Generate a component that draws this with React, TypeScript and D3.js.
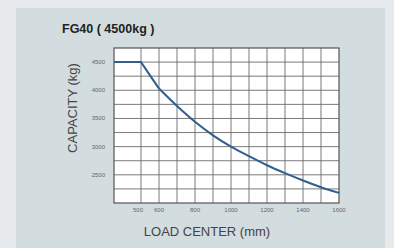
import React, { useEffect, useRef } from 'react';
import * as d3 from 'd3';

// load center (mm) vs capacity (kg)
const loadCenters = [350, 500, 600, 700, 800, 900, 1000, 1100, 1200, 1300, 1400, 1500, 1600];
const capacities = [4500, 4500, 4030, 3720, 3440, 3200, 3000, 2830, 2670, 2530, 2400, 2280, 2180];
const xTickLabels = [500, 600, 800, 1000, 1200, 1400, 1600];
const yTickLabels = [2500, 3000, 3500, 4000, 4500];

export default function App() {
  const svgRef = useRef<SVGSVGElement>(null);

  useEffect(() => {
    if (!svgRef.current) return;
    const width = 394;
    const height = 248;
    const plot = { left: 114, right: 339, top: 48, bottom: 203 };

    const svg = d3.select(svgRef.current);
    svg.selectAll('*').remove();
    svg.attr('width', width).attr('height', height);

    svg.append('rect').attr('width', width).attr('height', height).attr('fill', '#e6eaec');
    svg.append('rect').attr('x', 16).attr('y', 8).attr('width', 369).attr('height', 245).attr('fill', '#d3dcdf');

    svg.append('text').attr('x', 62).attr('y', 33)
      .attr('fill', '#222').style('font-family', 'Liberation Sans, Arial, sans-serif')
      .style('font-size', '12.5px').style('font-weight', 'bold')
      .text('FG40 ( 4500kg )');

    const x = d3.scaleLinear().domain([350, 1600]).range([plot.left, plot.right]);
    const y = d3.scaleLinear().domain([2000, 4750]).range([plot.bottom, plot.top]);

    svg.append('rect')
      .attr('x', plot.left).attr('y', plot.top)
      .attr('width', plot.right - plot.left).attr('height', plot.bottom - plot.top)
      .attr('fill', '#ffffff');

    const g = svg.append('g');
    d3.range(500, 1600, 100).forEach(v => {
      g.append('line').attr('x1', x(v)).attr('x2', x(v)).attr('y1', plot.top).attr('y2', plot.bottom)
        .attr('stroke', '#6b6b6b').attr('stroke-width', 0.9);
    });
    d3.range(2250, 4750, 250).forEach(v => {
      g.append('line').attr('x1', plot.left).attr('x2', plot.right).attr('y1', y(v)).attr('y2', y(v))
        .attr('stroke', '#6b6b6b').attr('stroke-width', 0.9);
    });
    svg.append('rect')
      .attr('x', plot.left).attr('y', plot.top)
      .attr('width', plot.right - plot.left).attr('height', plot.bottom - plot.top)
      .attr('fill', 'none').attr('stroke', '#555').attr('stroke-width', 1.2);

    // tick labels
    xTickLabels.forEach(v => {
      svg.append('text').attr('x', x(v) - (v === 500 ? 3 : 0)).attr('y', 212)
        .attr('text-anchor', 'middle').attr('fill', '#666')
        .style('font-family', 'Liberation Sans, Arial, sans-serif').style('font-size', '6px')
        .text(v);
    });
    yTickLabels.forEach(v => {
      svg.append('text').attr('x', 105).attr('y', y(v) + 2)
        .attr('text-anchor', 'end').attr('fill', '#666')
        .style('font-family', 'Liberation Sans, Arial, sans-serif').style('font-size', '6px')
        .text(v);
    });

    // axis titles
    svg.append('text').attr('x', 207).attr('y', 236)
      .attr('text-anchor', 'middle').attr('fill', '#444')
      .style('font-family', 'Liberation Sans, Arial, sans-serif').style('font-size', '13px')
      .text('LOAD CENTER (mm)');
    svg.append('text')
      .attr('transform', 'translate(77,108) rotate(-90)')
      .attr('text-anchor', 'middle').attr('fill', '#444')
      .style('font-family', 'Liberation Sans, Arial, sans-serif').style('font-size', '13px')
      .text('CAPACITY (kg)');

    // capacity curve: flat, straight drop to 600, then smooth
    const pts = loadCenters.map((d, i) => [d, capacities[i]] as [number, number]);
    const straight = d3.line<[number, number]>().x(d => x(d[0])).y(d => y(d[1]));
    const smooth = d3.line<[number, number]>().x(d => x(d[0])).y(d => y(d[1])).curve(d3.curveMonotoneX);
    svg.append('path').datum(pts.slice(0, 3)).attr('fill', 'none')
      .attr('stroke', '#2f5f8f').attr('stroke-width', 2).attr('stroke-linejoin', 'round').attr('d', straight);
    svg.append('path').datum(pts.slice(2)).attr('fill', 'none')
      .attr('stroke', '#2f5f8f').attr('stroke-width', 2).attr('stroke-linejoin', 'round').attr('d', smooth);
  }, []);

  return <svg ref={svgRef} style={{ position: 'absolute', left: 0, top: 0 }} />;
}
